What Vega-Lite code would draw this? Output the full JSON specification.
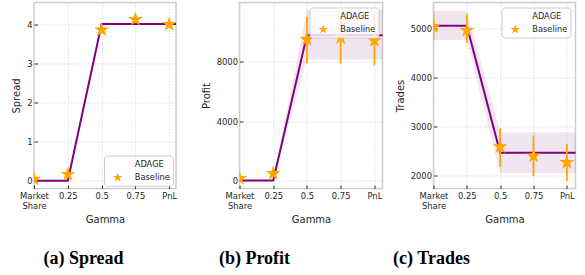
{
  "$schema": "https://vega.github.io/schema/vega-lite/v6.json",
  "padding": {"top": 1.5, "left": 10, "right": 0, "bottom": 0},
  "background": "white",
  "datasets": {
    "adage": [
      {"panel": "a", "x": 0, "y": 0, "lo": 0, "hi": 0},
      {"panel": "a", "x": 1, "y": 0, "lo": 0, "hi": 0},
      {"panel": "a", "x": 2, "y": 4, "lo": 4, "hi": 4},
      {"panel": "a", "x": 3, "y": 4, "lo": 4, "hi": 4},
      {"panel": "a", "x": 4, "y": 4, "lo": 4, "hi": 4},
      {"panel": "a", "x": 4.6, "y": 4, "lo": 4, "hi": 4},
      {"panel": "b", "x": 0, "y": 0, "lo": 0, "hi": 0},
      {"panel": "b", "x": 1, "y": 0, "lo": 0, "hi": 0},
      {"panel": "b", "x": 2, "y": 9800, "lo": 8160, "hi": 11480},
      {"panel": "b", "x": 3, "y": 9800, "lo": 8160, "hi": 11480},
      {"panel": "b", "x": 4, "y": 9800, "lo": 8160, "hi": 11480},
      {"panel": "b", "x": 4.6, "y": 9800, "lo": 8160, "hi": 11480},
      {"panel": "c", "x": 0, "y": 5060, "lo": 4767, "hi": 5365},
      {"panel": "c", "x": 1, "y": 5060, "lo": 4767, "hi": 5365},
      {"panel": "c", "x": 2, "y": 2460, "lo": 2040, "hi": 2878},
      {"panel": "c", "x": 3, "y": 2460, "lo": 2040, "hi": 2878},
      {"panel": "c", "x": 4, "y": 2460, "lo": 2040, "hi": 2878},
      {"panel": "c", "x": 4.6, "y": 2460, "lo": 2040, "hi": 2878}
    ],
    "base": [
      {"panel": "a", "series": "Baseline", "x": 0, "y": 0.04, "lo": 0.04, "hi": 0.04},
      {"panel": "a", "series": "Baseline", "x": 1, "y": 0.16, "lo": 0.16, "hi": 0.16},
      {"panel": "a", "series": "Baseline", "x": 2, "y": 3.85, "lo": 3.85, "hi": 3.85},
      {"panel": "a", "series": "Baseline", "x": 3, "y": 4.12, "lo": 4.12, "hi": 4.12},
      {"panel": "a", "series": "Baseline", "x": 4, "y": 3.99, "lo": 3.99, "hi": 3.99},
      {"panel": "b", "series": "Baseline", "x": 0, "y": 130, "lo": 130, "hi": 130},
      {"panel": "b", "series": "Baseline", "x": 1, "y": 470, "lo": 470, "hi": 470},
      {"panel": "b", "series": "Baseline", "x": 2, "y": 9510, "lo": 7890, "hi": 11040},
      {"panel": "b", "series": "Baseline", "x": 3, "y": 9620, "lo": 7890, "hi": 11260},
      {"panel": "b", "series": "Baseline", "x": 4, "y": 9440, "lo": 7775, "hi": 11260},
      {"panel": "c", "series": "Baseline", "x": 0, "y": 5040, "lo": 4760, "hi": 5330},
      {"panel": "c", "series": "Baseline", "x": 1, "y": 4965, "lo": 4700, "hi": 5300},
      {"panel": "c", "series": "Baseline", "x": 2, "y": 2584, "lo": 2173, "hi": 2961},
      {"panel": "c", "series": "Baseline", "x": 3, "y": 2391, "lo": 1980, "hi": 2811},
      {"panel": "c", "series": "Baseline", "x": 4, "y": 2261, "lo": 1877, "hi": 2632}
    ]
  },
  "hconcat": [
    {
      "width": 142,
      "height": 186,
      "title": {"text": "(a) Spread", "dx": -21.5},
      "encoding": {
        "x": {"field": "x", "type": "quantitative", "scale": {"domain": [0, 4.2], "nice": false, "zero": false}, "axis": {"values": [0, 1, 2, 3, 4], "labelExpr": "datum.value == 0 ? ['Market', 'Share'] : datum.value == 1 ? '0.25' : datum.value == 2 ? '0.5' : datum.value == 3 ? '0.75' : 'PnL'", "title": "Gamma"}}
      },
      "layer": [
        {
          "data": {"name": "adage"},
          "transform": [{"filter": "datum.panel == 'a'"}],
          "mark": {"type": "line", "color": "purple", "strokeWidth": 2, "clip": true},
          "encoding": {"y": {"field": "y", "type": "quantitative", "title": "Spread", "scale": {"domain": [-0.2, 4.55], "nice": false, "zero": false}, "axis": {"values": [0, 1, 2, 3, 4]}}}
        },
        {
          "data": {"name": "base"},
          "transform": [{"filter": "datum.panel == 'a'"}],
          "mark": {"type": "point", "filled": true, "size": 250, "opacity": 1, "clip": true},
          "encoding": {
            "y": {"field": "y", "type": "quantitative", "title": "Spread", "scale": {"domain": [-0.2, 4.55], "nice": false, "zero": false}},
            "color": {"field": "series", "type": "nominal", "scale": {"domain": ["ADAGE", "Baseline"], "range": ["purple", "orange"]}, "legend": {"orient": "bottom-right", "offset": 3, "title": null, "encode": {"symbols": {"size": {"value": {"expr": "datum.value === 'ADAGE' ? 324 : 270"}}, "stroke": {"value": {"expr": "datum.value === 'ADAGE' ? 'purple' : 'orange'"}}, "strokeWidth": {"value": {"expr": "datum.value === 'ADAGE' ? 2 : 0"}}}}}},
            "shape": {"field": "series", "type": "nominal", "scale": {"domain": ["ADAGE", "Baseline"], "range": ["stroke", "M0,-1L0.225,-0.309L0.951,-0.309L0.363,0.118L0.588,0.809L0,0.382L-0.588,0.809L-0.363,0.118L-0.951,-0.309L-0.225,-0.309Z"]}, "legend": {"orient": "bottom-right", "offset": 3, "title": null, "encode": {"symbols": {"size": {"value": {"expr": "datum.value === 'ADAGE' ? 324 : 270"}}, "stroke": {"value": {"expr": "datum.value === 'ADAGE' ? 'purple' : 'orange'"}}, "strokeWidth": {"value": {"expr": "datum.value === 'ADAGE' ? 2 : 0"}}}}}}
          }
        }
      ]
    },
    {
      "hconcat": [
        {
          "width": 143,
          "height": 186,
          "title": {"text": "(b) Profit", "dx": -56.5},
          "encoding": {
            "x": {"field": "x", "type": "quantitative", "scale": {"domain": [0, 4.24], "nice": false, "zero": false}, "axis": {"values": [0, 1, 2, 3, 4], "labelExpr": "datum.value == 0 ? ['Market', 'Share'] : datum.value == 1 ? '0.25' : datum.value == 2 ? '0.5' : datum.value == 3 ? '0.75' : 'PnL'", "title": "Gamma"}}
          },
          "layer": [
            {
              "data": {"name": "adage"},
              "transform": [{"filter": "datum.panel == 'b'"}],
              "mark": {"type": "area", "color": "purple", "opacity": 0.1, "clip": true},
              "encoding": {
                "y": {"field": "lo", "type": "quantitative", "title": "Profit", "scale": {"domain": [-540, 12000], "nice": false, "zero": false}, "axis": {"values": [0, 2000, 4000, 6000, 8000, 10000], "format": "d"}},
                "y2": {"field": "hi"}
              }
            },
            {
              "data": {"name": "adage"},
              "transform": [{"filter": "datum.panel == 'b'"}],
              "mark": {"type": "line", "color": "purple", "strokeWidth": 2, "clip": true},
              "encoding": {"y": {"field": "y", "type": "quantitative", "title": "Profit", "scale": {"domain": [-540, 12000], "nice": false, "zero": false}}}
            },
            {
              "data": {"name": "base"},
              "transform": [{"filter": "datum.panel == 'b' && datum.hi > datum.lo"}],
              "mark": {"type": "rule", "color": "orange", "strokeWidth": 1.8, "clip": true},
              "encoding": {
                "y": {"field": "lo", "type": "quantitative", "title": "Profit", "scale": {"domain": [-540, 12000], "nice": false, "zero": false}},
                "y2": {"field": "hi"}
              }
            },
            {
              "data": {"name": "base"},
              "transform": [{"filter": "datum.panel == 'b'"}],
              "mark": {"type": "point", "filled": true, "size": 250, "opacity": 1, "clip": true},
              "encoding": {
                "y": {"field": "y", "type": "quantitative", "title": "Profit", "scale": {"domain": [-540, 12000], "nice": false, "zero": false}},
                "color": {"field": "series", "type": "nominal", "scale": {"domain": ["ADAGE", "Baseline"], "range": ["purple", "orange"]}, "legend": {"orient": "top-right", "offset": 4.5, "title": null, "encode": {"symbols": {"size": {"value": {"expr": "datum.value === 'ADAGE' ? 324 : 270"}}, "stroke": {"value": {"expr": "datum.value === 'ADAGE' ? 'purple' : 'orange'"}}, "strokeWidth": {"value": {"expr": "datum.value === 'ADAGE' ? 2 : 0"}}}}}},
                "shape": {"field": "series", "type": "nominal", "scale": {"domain": ["ADAGE", "Baseline"], "range": ["stroke", "M0,-1L0.225,-0.309L0.951,-0.309L0.363,0.118L0.588,0.809L0,0.382L-0.588,0.809L-0.363,0.118L-0.951,-0.309L-0.225,-0.309Z"]}, "legend": {"orient": "top-right", "offset": 4.5, "title": null, "encode": {"symbols": {"size": {"value": {"expr": "datum.value === 'ADAGE' ? 324 : 270"}}, "stroke": {"value": {"expr": "datum.value === 'ADAGE' ? 'purple' : 'orange'"}}, "strokeWidth": {"value": {"expr": "datum.value === 'ADAGE' ? 2 : 0"}}}}}}
              }
            }
          ]
        },
        {
          "width": 142,
          "height": 186,
          "title": {"text": "(c) Trades", "dx": -73},
          "encoding": {
            "x": {"field": "x", "type": "quantitative", "scale": {"domain": [0, 4.26], "nice": false, "zero": false}, "axis": {"values": [0, 1, 2, 3, 4], "labelExpr": "datum.value == 0 ? ['Market', 'Share'] : datum.value == 1 ? '0.25' : datum.value == 2 ? '0.5' : datum.value == 3 ? '0.75' : 'PnL'", "title": "Gamma"}}
          },
          "layer": [
            {
              "data": {"name": "adage"},
              "transform": [{"filter": "datum.panel == 'c'"}],
              "mark": {"type": "area", "color": "purple", "opacity": 0.1, "clip": true},
              "encoding": {
                "y": {"field": "lo", "type": "quantitative", "title": "Trades", "scale": {"domain": [1726, 5535], "nice": false, "zero": false}, "axis": {"values": [2000, 2500, 3000, 3500, 4000, 4500, 5000, 5500], "format": "d"}},
                "y2": {"field": "hi"}
              }
            },
            {
              "data": {"name": "adage"},
              "transform": [{"filter": "datum.panel == 'c'"}],
              "mark": {"type": "line", "color": "purple", "strokeWidth": 2, "clip": true},
              "encoding": {"y": {"field": "y", "type": "quantitative", "title": "Trades", "scale": {"domain": [1726, 5535], "nice": false, "zero": false}}}
            },
            {
              "data": {"name": "base"},
              "transform": [{"filter": "datum.panel == 'c' && datum.hi > datum.lo"}],
              "mark": {"type": "rule", "color": "orange", "strokeWidth": 1.8, "clip": true},
              "encoding": {
                "y": {"field": "lo", "type": "quantitative", "title": "Trades", "scale": {"domain": [1726, 5535], "nice": false, "zero": false}},
                "y2": {"field": "hi"}
              }
            },
            {
              "data": {"name": "base"},
              "transform": [{"filter": "datum.panel == 'c'"}],
              "mark": {"type": "point", "filled": true, "size": 250, "opacity": 1, "clip": true},
              "encoding": {
                "y": {"field": "y", "type": "quantitative", "title": "Trades", "scale": {"domain": [1726, 5535], "nice": false, "zero": false}},
                "color": {"field": "series", "type": "nominal", "scale": {"domain": ["ADAGE", "Baseline"], "range": ["purple", "orange"]}, "legend": {"orient": "top-right", "offset": 5, "title": null, "encode": {"symbols": {"size": {"value": {"expr": "datum.value === 'ADAGE' ? 324 : 270"}}, "stroke": {"value": {"expr": "datum.value === 'ADAGE' ? 'purple' : 'orange'"}}, "strokeWidth": {"value": {"expr": "datum.value === 'ADAGE' ? 2 : 0"}}}}}},
                "shape": {"field": "series", "type": "nominal", "scale": {"domain": ["ADAGE", "Baseline"], "range": ["stroke", "M0,-1L0.225,-0.309L0.951,-0.309L0.363,0.118L0.588,0.809L0,0.382L-0.588,0.809L-0.363,0.118L-0.951,-0.309L-0.225,-0.309Z"]}, "legend": {"orient": "top-right", "offset": 5, "title": null, "encode": {"symbols": {"size": {"value": {"expr": "datum.value === 'ADAGE' ? 324 : 270"}}, "stroke": {"value": {"expr": "datum.value === 'ADAGE' ? 'purple' : 'orange'"}}, "strokeWidth": {"value": {"expr": "datum.value === 'ADAGE' ? 2 : 0"}}}}}}
              }
            }
          ]
        }
      ],
      "spacing": 8,
      "resolve": {"scale": {"x": "independent", "y": "independent", "color": "independent", "shape": "independent"}, "legend": {"color": "independent", "shape": "independent"}}
    }
  ],
  "spacing": 21.5,
  "resolve": {"scale": {"x": "independent", "y": "independent", "color": "independent", "shape": "independent"}, "legend": {"color": "independent", "shape": "independent"}},
  "config": {
    "font": "DejaVu Sans",
    "view": {"stroke": "#cccccc", "strokeWidth": 1.5},
    "title": {"orient": "bottom", "anchor": "middle", "frame": "group", "offset": 26, "font": "Liberation Serif", "fontSize": 18, "fontWeight": "bold", "color": "black"},
    "axis": {"labelFontSize": 8.4, "titleFontSize": 10, "labelColor": "#262626", "titleColor": "#262626", "titleFontWeight": "normal", "tickColor": "#333333", "tickSize": -3.5, "tickWidth": 1, "domain": false, "gridColor": "#d9d9d9", "gridDash": [1.5, 1.5], "gridWidth": 0.8, "labelOverlap": false},
    "axisX": {"titlePadding": 5, "labelPadding": 6, "labelLineHeight": 10, "labelFlush": false},
    "axisY": {"titlePadding": 5, "labelPadding": 5.5},
    "legend": {"padding": 3, "cornerRadius": 3, "strokeColor": "#cccccc", "fillColor": "rgba(255,255,255,0.8)", "labelFontSize": 8.3, "labelColor": "#262626", "symbolSize": 100, "symbolOffset": 4.7, "rowPadding": 3, "labelOffset": 11}
  }
}
